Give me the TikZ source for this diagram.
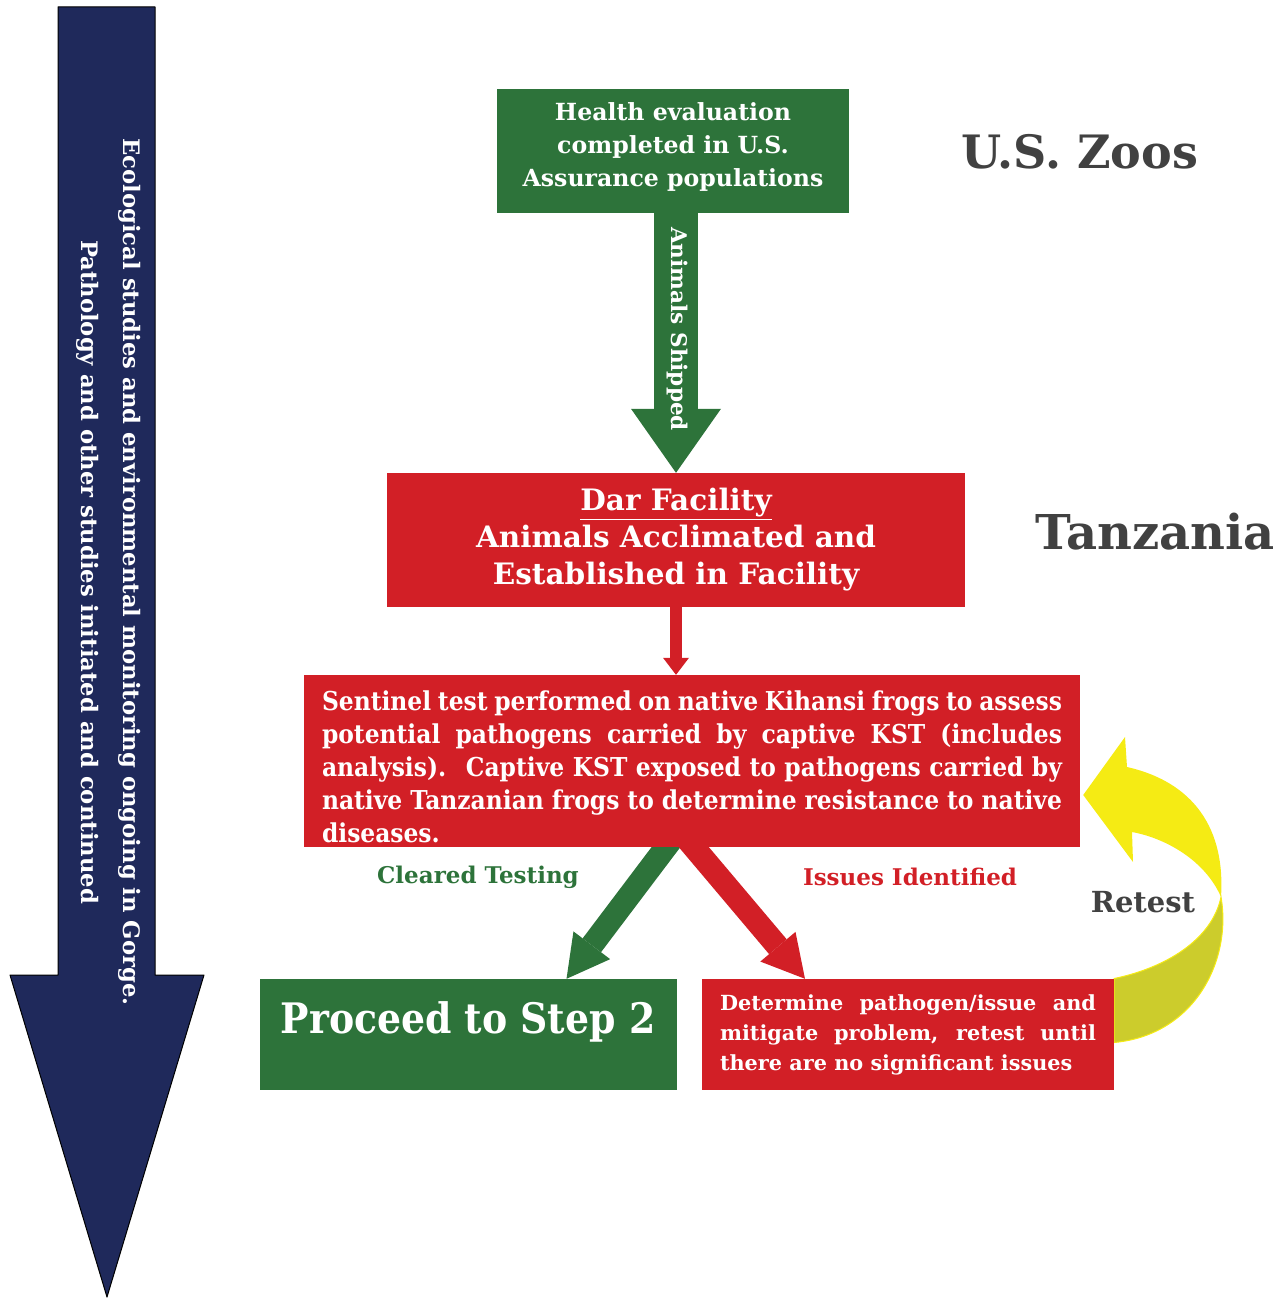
\documentclass[tikz,border=0pt]{standalone}
\usepackage{fontspec}
\setmainfont{DejaVu Serif}
\newfontfamily\cnd{DejaVu Serif Condensed}
\usetikzlibrary{arrows.meta,calc}
\definecolor{navy}{RGB}{31,41,91}
\definecolor{mygreen}{RGB}{45,115,58}
\definecolor{myred}{RGB}{210,31,38}
\definecolor{mygray}{RGB}{65,65,65}
\definecolor{myyellow}{RGB}{245,235,20}
\definecolor{myolive}{RGB}{204,204,44}
\pgfdeclarelayer{bg}
\pgfsetlayers{bg,main}
\newcommand{\fsz}[2]{\fontsize{#1}{#2}\selectfont}
\begin{document}
\begin{tikzpicture}[x=1pt,y=-1pt,
  box/.style={inner sep=0pt, text=white, align=center},
  gbox/.style={box, fill=mygreen},
  rbox/.style={box, fill=myred},
  lbl/.style={inner sep=0pt},
  vtext/.style={inner sep=0pt, text=white, rotate=-90},
  garrow/.style={mygreen, line width=44pt, -{Triangle[width=90pt,length=64pt,line width=0pt]}},
  smallarrow/.style={myred, line width=12pt, -{Triangle[width=26pt,length=17pt,line width=0pt]}},
  diagarrow/.style={line width=23pt, -{Triangle[width=46pt,length=42pt,line width=0pt]}}
]
\useasboundingbox (0,0) rectangle (1287,1298);

% navy side arrow
\path[fill=navy, draw=black, line width=1pt, line join=round]
  (58,7) -- (155,7) -- (155,975) -- (204,975) -- (107,1297) -- (10,975) -- (58,975) -- cycle;
\node[vtext, font={\bfseries\fsz{22.7}{26}}] (eco) at (130,572)
  {Ecological studies and environmental monitoring ongoing in Gorge.};
\node[vtext, font={\bfseries\fsz{22.7}{26}}] (path) at (88,572)
  {Pathology and other studies initiated and continued};

% boxes
\node[gbox, minimum width=352pt, minimum height=124pt, font={\bfseries\fsz{23.6}{33}}] (g1) at (673,151)
  {Health evaluation\\completed in U.S.\\Assurance populations\\[-20pt]};
\node[rbox, minimum width=578pt, minimum height=134pt, font={\bfseries\fsz{29.5}{37}}] (r1) at (676,540)
  {\underline{Dar Facility}\\Animals Acclimated and\\Established in Facility};
\node[rbox, minimum width=776pt, minimum height=172pt, text width=740pt, align=justify,
      font={\cnd\bfseries\fsz{26}{33}}] (r2) at (692,761)
  {\rule{0pt}{32pt}Sentinel test performed on native Kihansi frogs to assess\linebreak
   potential pathogens carried by captive KST (includes\linebreak
   analysis).\hspace{0.3em} Captive KST exposed to pathogens carried by\linebreak
   native Tanzanian frogs to determine resistance to native\linebreak
   diseases.};
\node[gbox, minimum width=417pt, minimum height=111pt] (g2) at (468.5,1034.5) {};
\node[lbl, text=white, font={\cnd\bfseries\fsz{42}{46}}] (g2t) at (468,1022) {Proceed to Step 2};
\node[rbox, minimum width=412pt, minimum height=111pt, text width=376pt, align=justify,
      font={\bfseries\fsz{20.8}{30}}] (r3) at (908,1034.5)
  {Determine pathogen/issue and\linebreak
   mitigate problem, retest until\linebreak
   there are no significant issues};

% labels
\node[lbl, text=mygray, font={\bfseries\fsz{46}{50}}] (zoos) at (1080,152) {U.S. Zoos};
\node[lbl, text=mygray, font={\bfseries\fsz{48}{52}}] (tanz) at (1155,532) {Tanzania};
\node[lbl, text=mygreen, font={\bfseries\fsz{23}{26}}] (clear) at (478,877) {Cleared Testing};
\node[lbl, text=myred, font={\bfseries\fsz{23}{26}}] (issue) at (910,877) {Issues Identified};
\node[lbl, text=mygray, font={\bfseries\fsz{29}{32}}] (retest) at (1143,902) {Retest};

% connectors (behind boxes)
\begin{pgfonlayer}{bg}
  \draw[garrow] ($(r1.north |- g1.south)+(0,-6)$) -- (r1.north);
  \draw[smallarrow] ($(r1.south)+(0,-4)$) -- (r1.south |- r2.north);
  \draw[diagarrow, mygreen] ($(r2.south)+(-11,-20)$) -- ($(g2.north)+(98,0)$);
  \draw[diagarrow, myred] ($(r2.south)+(-15,-20)$) -- ($(r3.north)+(-103,0)$);
  % yellow retest arrow
  \filldraw[fill=myolive, draw=myyellow, line width=1pt]
    ($(r3.east)+(0,-56)$) .. controls (1165,968) and (1212,940) .. (1221,897)
    .. controls (1232,960) and (1195,1035) .. ($(r3.east)+(0,8)$) -- cycle;
  \fill[myyellow] (1221,897) .. controls (1226,820) and (1185,780) .. (1127,767)
    -- (1125,737) -- ($(r2.east)+(3,34)$) -- (1133,862) -- (1132,832)
    .. controls (1165,838) and (1205,860) .. (1221,897) -- cycle;
\end{pgfonlayer}
\node[vtext, font={\bfseries\fsz{21.6}{24}}] (ship) at (677,329) {Animals Shipped};
\end{tikzpicture}
\end{document}
